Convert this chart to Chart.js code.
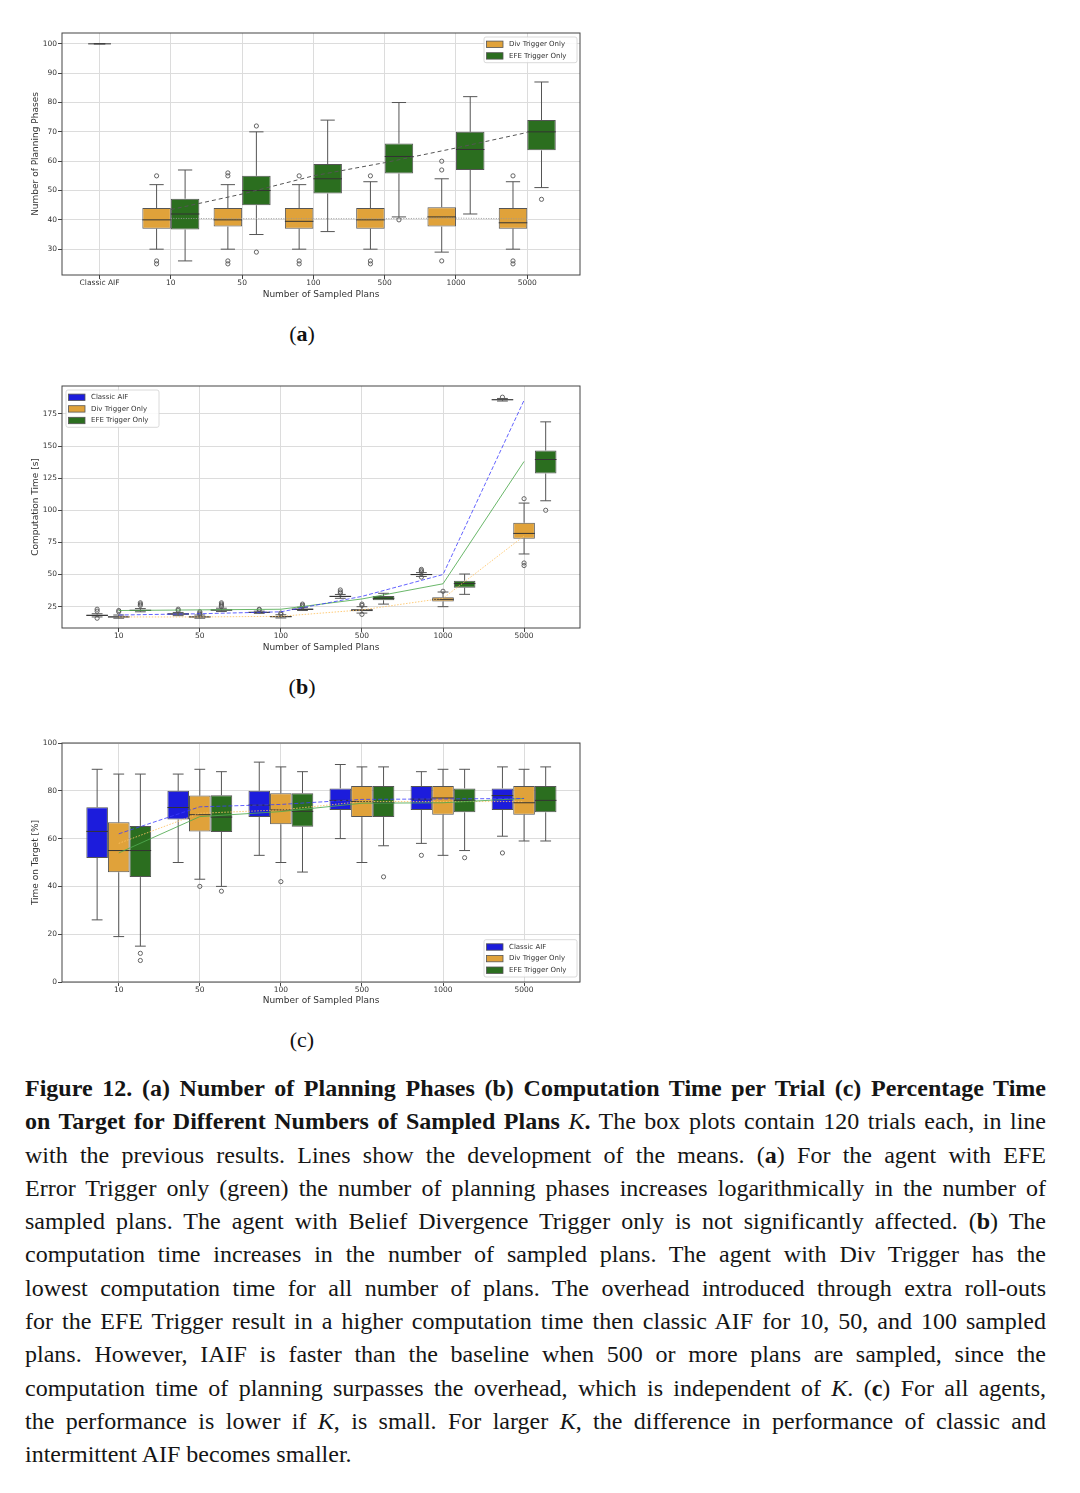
<!DOCTYPE html>
<html>
<head>
<meta charset="utf-8">
<script src="https://cdn.jsdelivr.net/npm/chart.js@4.4.1/dist/chart.umd.min.js"></script>
<style>
  body { margin: 0; background: #fff; width: 1080px; height: 1493px; position: relative; overflow: hidden; }
  canvas { position: absolute; left: 0; }
  .sub { position: absolute; left: 0; width: 604px; text-align: center; font-family: "Liberation Serif", serif; font-size: 22px; line-height: 26px; color: #111; }
  #cap { position: absolute; left: 25px; top: 1072px; width: 1021px; font-family: "Liberation Serif", serif; font-size: 24px; line-height: 33.3px; color: #151515; }
  #cap div { text-align: justify; text-align-last: justify; }
  #cap div.last { text-align-last: left; }
</style>
</head>
<body>
<canvas id="chartA" width="600" height="280" style="top:20px"></canvas>
<div class="sub" style="top:321px">(<b>a</b>)</div>
<canvas id="chartB" width="600" height="283" style="top:370px"></canvas>
<div class="sub" style="top:674px">(<b>b</b>)</div>
<canvas id="chartC" width="600" height="281" style="top:725px"></canvas>
<div class="sub" style="top:1027px">(c)</div>

<div id="cap">
  <div><b>Figure 12. (a) Number of Planning Phases (b) Computation Time per Trial (c) Percentage Time</b></div>
  <div><b>on Target for Different Numbers of Sampled Plans</b> <i>K</i><b>.</b> The box plots contain 120 trials each, in line</div>
  <div>with the previous results. Lines show the development of the means. (<b>a</b>) For the agent with EFE</div>
  <div>Error Trigger only (green) the number of planning phases increases logarithmically in the number of</div>
  <div>sampled plans. The agent with Belief Divergence Trigger only is not significantly affected. (<b>b</b>) The</div>
  <div>computation time increases in the number of sampled plans. The agent with Div Trigger has the</div>
  <div>lowest computation time for all number of plans. The overhead introduced through extra roll-outs</div>
  <div>for the EFE Trigger result in a higher computation time then classic AIF for 10, 50, and 100 sampled</div>
  <div>plans. However, IAIF is faster than the baseline when 500 or more plans are sampled, since the</div>
  <div>computation time of planning surpasses the overhead, which is independent of <i>K</i>. (<b>c</b>) For all agents,</div>
  <div>the performance is lower if <i>K</i>, is small. For larger <i>K</i>, the difference in performance of classic and</div>
  <div class="last">intermittent AIF becomes smaller.</div>
</div>

<script>
// ---- (a) number of planning phases ----
const catsA = ["Classic AIF", "10", "50", "100", "500", "1000", "5000"]
const yTicksA = [30, 40, 50, 60, 70, 80, 90, 100]
const aClassic = [100]   // classic AIF always plans: every quartile is 100
const aDivLo  = [30, 30, 30, 30, 29, 30]
const aDivQ1  = [37, 37.7, 37, 37, 37.7, 37]
const aDivMed = [40, 40, 39.5, 40, 41, 39]
const aDivQ3  = [44, 44, 44, 44, 44.3, 44]
const aDivHi  = [52, 52, 52, 53, 54, 53]
const aDivOut = [[55, 25, 26], [55, 56, 25, 26], [55, 25, 26], [55, 25, 26], [57, 60, 26], [55, 25, 26]]
const aDivMean = [40.5, 40.4, 40.4, 40.4, 40.6, 40.3]
const aEfeLo  = [26, 35, 36, 41, 42, 51]
const aEfeQ1  = [36.7, 45, 49, 55.8, 57, 63.7]
const aEfeMed = [42, 50, 54, 61.6, 64, 70]
const aEfeQ3  = [47.2, 55, 59, 66, 70, 74]
const aEfeHi  = [57, 70, 74, 80, 82, 87]
const aEfeOut = [[], [72, 29], [], [40], [], [47]]
const aEfeMean = [43.5, 48.8, 55, 59.5, 64.5, 69.8]

// ---- (b) computation time [s] ----
const catsBC = ["10", "50", "100", "500", "1000", "5000"]
const yTicksB = [25, 50, 75, 100, 125, 150, 175]
const bClaLo  = [17, 18, 19.8, 31.5, 48.5, 185]
const bClaQ1  = [17.8, 18.8, 20.2, 32.5, 49.4, 185.6]
const bClaMed = [18.3, 19.3, 20.6, 33, 50, 186]
const bClaQ3  = [18.8, 19.8, 21, 33.5, 50.5, 186.4]
const bClaHi  = [19.5, 20.5, 21.5, 34.5, 51.5, 187]
const bClaOut = [[16, 21.5, 23], [22, 23], [22.5, 23], [35.5, 36.5, 38], [48, 52, 53, 54], [188]]
const bClaMean = [18.5, 19.5, 21, 33, 50, 185.6]
const bDivLo  = [16, 16, 16.2, 20, 25, 66]
const bDivQ1  = [16.5, 16.5, 16.7, 21.5, 29, 77.8]
const bDivMed = [17, 17, 17.2, 22.4, 30.7, 82]
const bDivQ3  = [17.5, 17.5, 17.7, 23, 32.3, 90.3]
const bDivHi  = [18.5, 18.5, 18.7, 25, 36.4, 105.6]
const bDivOut = [[21, 22], [19, 20, 21], [19, 20], [19, 26, 27], [37], [109, 57, 59]]
const bDivMean = [17, 17, 17.5, 22.5, 31.5, 80]
const bEfeLo  = [21, 21.2, 22, 27, 34.6, 107.4]
const bEfeQ1  = [21.7, 21.9, 22.5, 30, 39.8, 128.6]
const bEfeMed = [22.2, 22.4, 23, 31.5, 43, 139.5]
const bEfeQ3  = [22.5, 22.8, 23.5, 33.3, 45.2, 146.5]
const bEfeHi  = [23.5, 23.8, 24.5, 35.4, 50.4, 168.8]
const bEfeOut = [[26, 27, 28], [25, 26, 27, 28], [25, 26, 27], [], [], [100]]
const bEfeMean = [22, 22.5, 23, 31, 42.8, 138]

// ---- (c) time on target [%] ----
const yTicksC = [0, 20, 40, 60, 80, 100]
const cClaLo  = [26, 50, 53, 60, 58, 61]
const cClaQ1  = [51.9, 68, 69, 72, 72, 72]
const cClaMed = [63, 73, 74, 76, 76.5, 78]
const cClaQ3  = [73.1, 80, 80, 81, 82, 81]
const cClaHi  = [89, 87, 92, 91, 88, 90]
const cClaOut = [[], [], [], [], [53], [54]]
const cClaMean = [62, 73.3, 74.3, 76.4, 76.6, 76.8]
const cDivLo  = [19, 43, 50, 50, 53, 59]
const cDivQ1  = [45.9, 63, 66, 69, 70, 70]
const cDivMed = [55, 70, 72, 75.5, 77, 75]
const cDivQ3  = [66.8, 78, 79, 82, 82, 82]
const cDivHi  = [87, 89, 90, 90, 89, 89]
const cDivOut = [[], [40], [42], [], [], []]
const cDivMean = [58, 70.6, 72, 75.5, 75.5, 75.5]
const cEfeLo  = [15, 40, 46, 57, 55, 59]
const cEfeQ1  = [43.9, 62.8, 65, 69, 71, 71]
const cEfeMed = [55, 69, 71.4, 75, 76, 76]
const cEfeQ3  = [65.3, 78.1, 79, 82, 81, 82]
const cEfeHi  = [87, 88, 88, 90, 89, 90]
const cEfeOut = [[12, 9], [38], [], [44], [52], []]
const cEfeMean = [54, 69.2, 71.3, 74.8, 75, 76.8]

const BLUE = "#1c1cdc", ORANGE = "#e0a23a", GREEN = "#2b6e1f"
const EDGE = "#555"
const tickFont = { family: "DejaVu Sans", size: 7.5 }
const titleFont = { family: "DejaVu Sans", size: 9 }

// whiskers, caps and median lines for every box dataset
const whiskers = {
  id: "whiskers",
  afterDatasetDraw(chart, args) {
    const ds = chart.data.datasets[args.index]
    if (!ds.stats) return
    const { ctx, chartArea: a } = chart
    const ys = chart.scales.y
    const st = ds.stats
    const p = (v) => ys.getPixelForValue(v)
    ctx.save()
    ctx.beginPath()
    ctx.rect(a.left, a.top, a.width, a.height)
    ctx.clip()
    ctx.lineWidth = 1
    args.meta.data.forEach((bar, i) => {
      const cx = bar.x, hw = bar.width / 2
      ctx.strokeStyle = EDGE
      ctx.beginPath()
      ctx.moveTo(cx, p(st.q3[i])); ctx.lineTo(cx, p(st.hi[i]))
      ctx.moveTo(cx, p(st.q1[i])); ctx.lineTo(cx, p(st.lo[i]))
      ctx.moveTo(cx - hw / 2, p(st.hi[i])); ctx.lineTo(cx + hw / 2, p(st.hi[i]))
      ctx.moveTo(cx - hw / 2, p(st.lo[i])); ctx.lineTo(cx + hw / 2, p(st.lo[i]))
      ctx.stroke()
      ctx.strokeStyle = "#333"
      ctx.beginPath()
      ctx.moveTo(cx - hw, p(st.med[i])); ctx.lineTo(cx + hw, p(st.med[i]))
      ctx.stroke()
    })
    ctx.restore()
  }
}

// matplotlib style frame and legend inside the axes
const frameLegend = {
  id: "frameLegend",
  afterDraw(chart, args, opts) {
    const { ctx, chartArea: a } = chart
    ctx.save()
    ctx.strokeStyle = "#444"
    ctx.lineWidth = 1
    ctx.strokeRect(a.left, a.top, a.width, a.height)

    const items = chart.data.datasets.filter((d) => d.inLegend)
    const rowH = 11.6, w = 93, h = items.length * rowH + 2.5
    const x0 = opts.corner[1] === "r" ? a.right - 3 - w : a.left + 4
    const y0 = opts.corner[0] === "t" ? a.top + 4 : a.bottom - 5 - h
    ctx.fillStyle = "rgba(255,255,255,0.85)"
    ctx.strokeStyle = "#d0d0d0"
    ctx.lineWidth = 0.8
    ctx.beginPath()
    ctx.roundRect(x0, y0, w, h, 2)
    ctx.fill()
    ctx.stroke()
    ctx.font = '7px "DejaVu Sans"'
    ctx.textBaseline = "middle"
    items.forEach((d, k) => {
      const cy = y0 + 1.5 + rowH * (k + 0.5)
      ctx.fillStyle = d.backgroundColor
      ctx.fillRect(x0 + 2.5, cy - 3.2, 16.5, 6.4)
      ctx.strokeStyle = EDGE
      ctx.strokeRect(x0 + 2.5, cy - 3.2, 16.5, 6.4)
      ctx.fillStyle = "#333"
      ctx.fillText(d.label, x0 + 25, cy)
    })
    ctx.restore()
  }
}

function boxSet(label, color, pos, lo, q1, med, q3, hi, extra) {
  return Object.assign({
    type: "bar", label, inLegend: true, order: 2,
    data: pos.map((x, i) => ({ x, y: [q1[i], q3[i]] })),
    stats: { lo, q1, med, q3, hi },
    backgroundColor: color, borderColor: EDGE, borderWidth: 1, borderSkipped: false,
    categoryPercentage: 0.8, barPercentage: 1
  }, extra || {})
}

function outlierSet(pos, off, outs) {
  const pts = []
  outs.forEach((list, i) => list.forEach((v) => pts.push({ x: pos[i] + off, y: v })))
  return {
    type: "line", showLine: false, order: 1, data: pts,
    pointRadius: 2.1, pointStyle: "circle", pointBorderWidth: 0.9,
    pointBorderColor: "#555", pointBackgroundColor: "rgba(255,255,255,0)"
  }
}

function meanSet(pos, means, color, dash, width) {
  return {
    type: "line", order: 0, data: pos.map((x, i) => ({ x, y: means[i] })),
    borderColor: color, borderWidth: width || 1, borderDash: dash, pointRadius: 0, tension: 0, fill: false
  }
}

function makeChart(id, datasets, o) {
  return new Chart(document.getElementById(id), {
    type: "bar",
    data: { datasets },
    plugins: [whiskers, frameLegend],
    options: {
      responsive: false,
      animation: false,
      layout: { padding: { left: 30, top: o.top, right: 20, bottom: 0 } },
      plugins: { legend: { display: false }, tooltip: { enabled: false }, frameLegend: { corner: o.corner } },
      scales: {
        x: {
          type: "linear", min: o.xMin, max: o.xMax, offset: false,
          grid: { color: "#dcdcdc", lineWidth: 1, offset: false, tickLength: 4, tickColor: "#444" },
          border: { display: false },
          ticks: { font: tickFont, color: "#333", padding: 0, maxRotation: 0, autoSkip: false, callback: (v) => o.cats[v] },
          afterBuildTicks: (s) => { s.ticks = o.cats.map((_, i) => ({ value: i })) },
          title: { display: true, text: "Number of Sampled Plans", font: titleFont, color: "#333", padding: 0 },
          afterFit: (s) => { s.height = o.xh }
        },
        y: {
          type: "linear", min: o.yMin, max: o.yMax,
          grid: { color: "#dcdcdc", lineWidth: 1, tickLength: 4, tickColor: "#444" },
          border: { display: false },
          ticks: { font: tickFont, color: "#333", padding: 1, callback: (v) => v },
          afterBuildTicks: (s) => { s.ticks = o.yTicks.map((v) => ({ value: v })) },
          title: { display: true, text: o.yTitle, font: titleFont, color: "#333", padding: 0 },
          afterFit: (s) => { s.width = 32 }
        }
      }
    }
  })
}

// chart (a)
const posA = [1, 2, 3, 4, 5, 6]
makeChart("chartA", [
  boxSet("Div Trigger Only", ORANGE, posA, aDivLo, aDivQ1, aDivMed, aDivQ3, aDivHi),
  boxSet("EFE Trigger Only", GREEN, posA, aEfeLo, aEfeQ1, aEfeMed, aEfeQ3, aEfeHi),
  boxSet("Classic AIF", BLUE, [0], aClassic, aClassic, aClassic, aClassic, aClassic,
    { inLegend: false, grouped: false, barPercentage: 0.4, borderWidth: 0 }),
  outlierSet(posA, -0.2, aDivOut),
  outlierSet(posA, 0.2, aEfeOut),
  meanSet(posA, aEfeMean, "#555", [4, 3]),
  meanSet(posA, aDivMean, "#999", [1, 1.5])
], { top: 13, xh: 25, cats: catsA, xMin: -0.527, xMax: 6.74, yMin: 21.2, yMax: 103.7,
     yTicks: yTicksA, yTitle: "Number of Planning Phases", corner: "tr" })

// charts (b) and (c)
const posBC = [0, 1, 2, 3, 4, 5]
const off3 = 0.8 / 3
makeChart("chartB", [
  boxSet("Classic AIF", BLUE, posBC, bClaLo, bClaQ1, bClaMed, bClaQ3, bClaHi),
  boxSet("Div Trigger Only", ORANGE, posBC, bDivLo, bDivQ1, bDivMed, bDivQ3, bDivHi),
  boxSet("EFE Trigger Only", GREEN, posBC, bEfeLo, bEfeQ1, bEfeMed, bEfeQ3, bEfeHi),
  outlierSet(posBC, -off3, bClaOut),
  outlierSet(posBC, 0, bDivOut),
  outlierSet(posBC, off3, bEfeOut),
  meanSet(posBC, bClaMean, "rgba(60,60,255,0.8)", [4, 2]),
  meanSet(posBC, bEfeMean, "rgba(80,170,80,0.85)", []),
  meanSet(posBC, bDivMean, "rgba(255,195,100,0.85)", [1.5, 1.5])
], { top: 16, xh: 25, cats: catsBC, xMin: -0.70, xMax: 5.69, yMin: 8.4, yMax: 196.7,
     yTicks: yTicksB, yTitle: "Computation Time [s]", corner: "tl" })

makeChart("chartC", [
  boxSet("Classic AIF", BLUE, posBC, cClaLo, cClaQ1, cClaMed, cClaQ3, cClaHi),
  boxSet("Div Trigger Only", ORANGE, posBC, cDivLo, cDivQ1, cDivMed, cDivQ3, cDivHi),
  boxSet("EFE Trigger Only", GREEN, posBC, cEfeLo, cEfeQ1, cEfeMed, cEfeQ3, cEfeHi),
  outlierSet(posBC, -off3, cClaOut),
  outlierSet(posBC, 0, cDivOut),
  outlierSet(posBC, off3, cEfeOut),
  meanSet(posBC, cClaMean, "rgba(60,60,255,0.8)", [4, 2]),
  meanSet(posBC, cEfeMean, "rgba(80,170,80,0.85)", []),
  meanSet(posBC, cDivMean, "rgba(255,195,100,0.85)", [1.5, 1.5])
], { top: 18, xh: 24, cats: catsBC, xMin: -0.70, xMax: 5.69, yMin: 0, yMax: 100,
     yTicks: yTicksC, yTitle: "Time on Target [%]", corner: "br" })
</script>
</body>
</html>
